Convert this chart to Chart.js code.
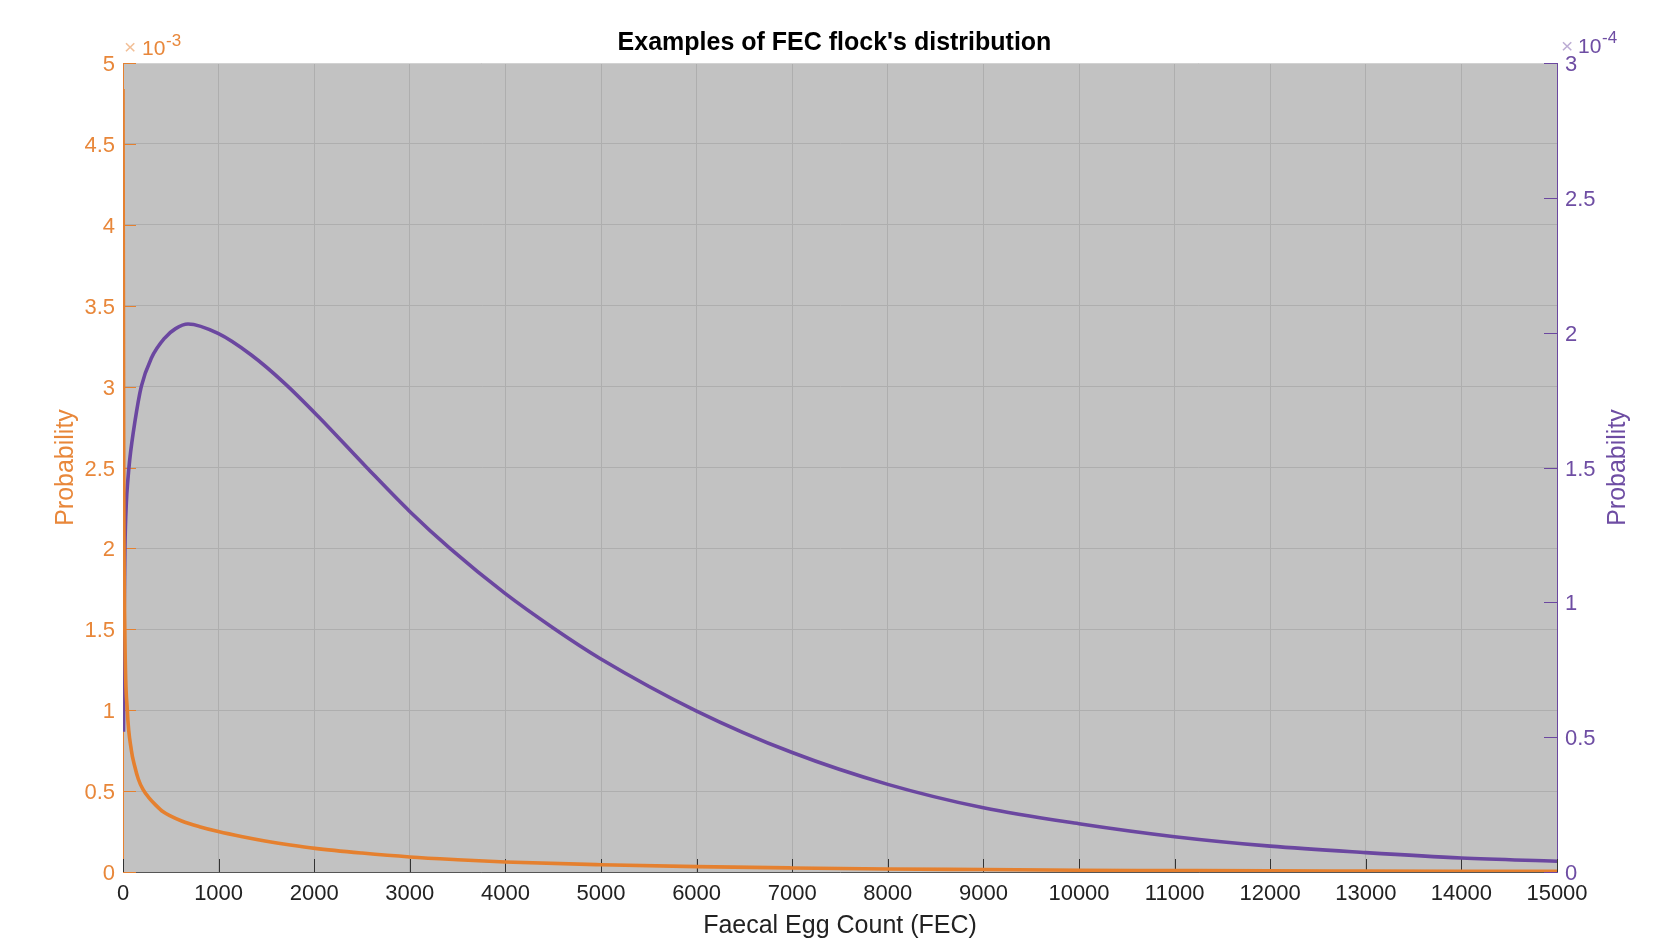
<!DOCTYPE html>
<html>
<head>
<meta charset="utf-8">
<title>Examples of FEC flock's distribution</title>
<script src="https://cdn.jsdelivr.net/npm/chart.js@4.4.1/dist/chart.umd.min.js"></script>
<style>
  html, body { margin: 0; padding: 0; background: #fff; }
  #wrap { width: 1669px; height: 943px; position: relative; }
</style>
</head>
<body>
<div id="wrap"><canvas id="fecChart"></canvas></div>
<script>
// orange series (left axis, x10^-3)
const fecOrange = [0, 8, 20, 45, 87, 122, 160, 209, 270, 340, 420, 500, 614, 800, 997, 1250, 1485, 1750, 2008, 2500, 3000, 3500, 4000, 5000, 6000, 7000, 8000, 9000, 10000, 11000, 12000, 13000, 14000, 15000];
const probOrange = [4.84, 2.4, 1.45, 1.0, 0.754, 0.655, 0.575, 0.51, 0.46, 0.415, 0.372, 0.345, 0.315, 0.28, 0.25, 0.218, 0.192, 0.167, 0.146, 0.117, 0.093, 0.076, 0.062, 0.045, 0.033, 0.025, 0.019, 0.015, 0.011, 0.009, 0.007, 0.006, 0.005, 0.004];

// purple series (right axis, x10^-4)
const fecPurple = [5, 12, 20, 35, 50, 70, 122, 191, 296, 436, 550, 680, 994, 1342, 1691, 2040, 2549, 3002, 3420, 3996, 4500, 4990, 6000, 7000, 8000, 9000, 10000, 11000, 12000, 13000, 14000, 15000];
const probPurple = [0.52, 0.95, 1.2, 1.37, 1.45, 1.528, 1.664, 1.80, 1.905, 1.98, 2.015, 2.032, 1.997, 1.917, 1.812, 1.69, 1.50, 1.336, 1.20, 1.033, 0.905, 0.792, 0.597, 0.443, 0.325, 0.238, 0.179, 0.131, 0.096, 0.072, 0.052, 0.040];

const xTicks = [0, 1000, 2000, 3000, 4000, 5000, 6000, 7000, 8000, 9000, 10000, 11000, 12000, 13000, 14000, 15000];
const leftTicks = [0, 0.5, 1, 1.5, 2, 2.5, 3, 3.5, 4, 4.5, 5];
const rightTicks = [0, 0.5, 1, 1.5, 2, 2.5, 3];

const ORANGE = '#E5802F';
const ORANGE_TXT = '#E8873A';
const PURPLE = '#6B47A0';
const PURPLE_TXT = '#6E4DA3';
const FONT = '"Liberation Sans", Arial, Helvetica, sans-serif';

function toPoints(xs, ys) {
  return xs.map((x, i) => ({ x: x, y: ys[i] }));
}

function line(ctx, x1, y1, x2, y2) {
  ctx.beginPath();
  ctx.moveTo(x1, y1);
  ctx.lineTo(x2, y2);
  ctx.stroke();
}

// grey plot box, inward ticks, exponents and right-hand title
const matlabAxes = {
  id: 'matlabAxes',
  beforeDraw(chart) {
    const { ctx, chartArea: a } = chart;
    ctx.save();
    ctx.fillStyle = '#c2c2c2';
    ctx.fillRect(a.left, a.top, a.right - a.left, a.bottom - a.top);
    ctx.restore();
  },
  beforeDatasetsDraw(chart) {
    const { ctx, chartArea: a, scales } = chart;
    ctx.save();
    ctx.lineWidth = 1;
    ctx.strokeStyle = '#d2d2d2';
    line(ctx, a.left, a.top + 0.5, a.right, a.top + 0.5);

    ctx.strokeStyle = '#333';
    xTicks.forEach(v => {
      const px = Math.round(scales.x.getPixelForValue(v)) + 0.5;
      line(ctx, px, a.bottom, px, a.bottom - 13);
    });
    ctx.strokeStyle = ORANGE;
    leftTicks.forEach(v => {
      const py = Math.round(scales.y.getPixelForValue(v)) + 0.5;
      line(ctx, a.left, py, a.left + 13, py);
    });
    ctx.strokeStyle = PURPLE;
    rightTicks.forEach(v => {
      const py = Math.round(scales.y1.getPixelForValue(v)) + 0.5;
      line(ctx, a.right, py, a.right - 13, py);
    });
    ctx.restore();
  },
  afterDraw(chart) {
    const { ctx, chartArea: a } = chart;
    ctx.save();
    ctx.textAlign = 'left';
    ctx.textBaseline = 'alphabetic';

    // x10^-3 (left)
    ctx.font = '21px ' + FONT;
    ctx.fillStyle = 'rgba(229,128,47,0.5)';
    ctx.fillText('\u00d7', a.left + 1, 54);
    ctx.fillStyle = ORANGE_TXT;
    ctx.fillText('10', a.left + 19, 55);
    ctx.font = '17px ' + FONT;
    ctx.fillText('-3', a.left + 43, 46);

    // x10^-4 (right)
    ctx.font = '21px ' + FONT;
    ctx.fillStyle = 'rgba(107,71,160,0.45)';
    ctx.fillText('\u00d7', a.right + 4, 53);
    ctx.fillStyle = PURPLE_TXT;
    ctx.fillText('10', a.right + 21, 53);
    ctx.font = '17px ' + FONT;
    ctx.fillText('-4', a.right + 45, 43);

    // right axis title, reads bottom to top like the left one
    ctx.font = '25px ' + FONT;
    ctx.fillStyle = PURPLE_TXT;
    ctx.textAlign = 'center';
    ctx.textBaseline = 'middle';
    ctx.translate(1618, (a.top + a.bottom) / 2);
    ctx.rotate(-Math.PI / 2);
    ctx.fillText('Probability', 0, 0);
    ctx.restore();
  }
};

new Chart(document.getElementById('fecChart'), {
  type: 'line',
  data: {
    datasets: [
      {
        label: 'FEC distribution A',
        data: toPoints(fecOrange, probOrange),
        yAxisID: 'y',
        borderColor: ORANGE,
        borderWidth: 3.6,
        pointRadius: 0,
        cubicInterpolationMode: 'monotone',
        fill: false
      },
      {
        label: 'FEC distribution B',
        data: toPoints(fecPurple, probPurple),
        yAxisID: 'y1',
        borderColor: PURPLE,
        borderWidth: 3.6,
        pointRadius: 0,
        cubicInterpolationMode: 'monotone',
        fill: false
      }
    ]
  },
  options: {
    responsive: true,
    maintainAspectRatio: false,
    animation: false,
    layout: { padding: 0 },
    plugins: {
      legend: { display: false },
      tooltip: { enabled: false },
      title: {
        display: true,
        text: "Examples of FEC flock's distribution",
        color: '#000',
        font: { family: FONT, size: 25, weight: 'bold' },
        padding: { top: 28, bottom: 5 }
      }
    },
    scales: {
      x: {
        type: 'linear',
        min: 0,
        max: 15000,
        afterBuildTicks: s => { s.ticks = xTicks.map(v => ({ value: v })); },
        afterFit: s => { s.height = 71; },
        ticks: {
          color: '#222',
          font: { family: FONT, size: 22 },
          padding: 9,
          maxRotation: 0,
          autoSkip: false,
          callback: v => String(v)
        },
        grid: { color: '#aeaeae', lineWidth: 1, drawTicks: false },
        border: { color: '#555', width: 1 },
        title: {
          display: true,
          text: 'Faecal Egg Count (FEC)',
          color: '#222',
          font: { family: FONT, size: 25 },
          padding: { top: 0, bottom: 2 }
        }
      },
      y: {
        type: 'linear',
        position: 'left',
        min: 0,
        max: 5,
        afterBuildTicks: s => { s.ticks = leftTicks.map(v => ({ value: v })); },
        afterFit: s => { s.width = 123; },
        ticks: {
          color: ORANGE_TXT,
          font: { family: FONT, size: 22 },
          padding: 8,
          labelOffset: 2,
          callback: v => String(v)
        },
        grid: { color: '#aeaeae', lineWidth: 1, drawTicks: false },
        border: { color: ORANGE, width: 1 },
        title: {
          display: true,
          text: 'Probability',
          color: ORANGE_TXT,
          font: { family: FONT, size: 25 },
          padding: { top: 51, bottom: 0 }
        }
      },
      y1: {
        type: 'linear',
        position: 'right',
        min: 0,
        max: 3,
        afterBuildTicks: s => { s.ticks = rightTicks.map(v => ({ value: v })); },
        afterFit: s => { s.width = 112; },
        ticks: {
          color: PURPLE_TXT,
          font: { family: FONT, size: 22 },
          padding: 8,
          labelOffset: 2,
          callback: v => String(v)
        },
        grid: { display: false, drawTicks: false },
        border: { color: PURPLE, width: 1 }
      }
    }
  },
  plugins: [matlabAxes]
});
</script>
</body>
</html>
